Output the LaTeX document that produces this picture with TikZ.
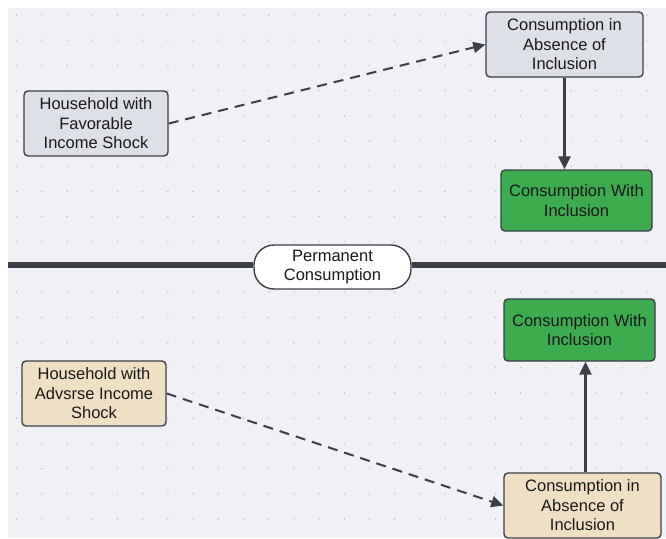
\documentclass[tikz,border=0pt]{standalone}
\usepackage{fontspec}
\setmainfont{Liberation Sans}
\usepackage{tikz}
\usetikzlibrary{arrows.meta}

\definecolor{canvas}{RGB}{241,241,245}
\definecolor{dotc}{RGB}{190,190,198}
\definecolor{edge}{RGB}{59,63,72}
\definecolor{greybox}{RGB}{221,224,230}
\definecolor{beigebox}{RGB}{239,224,195}
\definecolor{greenbox}{RGB}{60,172,78}

\tikzset{
    box/.style={draw=edge, line width=1.4pt, rounded corners=4pt, align=center,
        font=\fontsize{16.5}{19.5}\selectfont, text=black!90, inner sep=0pt},
    pill/.style={box, rounded corners=20pt, fill=white},
    flow/.style={draw=edge, line width=3pt, -{Triangle[length=13pt,width=12pt]}},
    shockarrow/.style={draw=edge, line width=2pt, dash pattern=on 10pt off 7pt,
        -{Triangle[length=12pt,width=11pt]}}
}

\begin{document}
\begin{tikzpicture}[x=1pt,y=-1pt]
    \useasboundingbox (0,0) rectangle (666,538);
    % Canvas
    \fill[canvas] (8,8) rectangle (666,538);
    \foreach \i in {0,...,25}
        \foreach \j in {0,...,20}
            \fill[dotc] (16.7+25.2*\i, 15+25.2*\j) circle (0.8pt);

    % Divider
    \coordinate (lineL) at (8,265);
    \coordinate (lineR) at (666,265);
    \node[pill, minimum width=157pt, minimum height=44pt] (perm) at (332.5,267)
        {Permanent\\Consumption};
    \draw[edge, line width=6pt] (lineL) -- (lineL -| perm.west);
    \draw[edge, line width=6pt] (lineR -| perm.east) -- (lineR);

    % Favorable shock
    \node[box, fill=greybox, minimum width=144pt, minimum height=65pt] (favHH) at (96,123.5)
        {Household with\\Favorable\\Income Shock};
    \node[box, fill=greybox, minimum width=157pt, minimum height=65pt] (favAbs) at (564.5,44.5)
        {Consumption in\\Absence of\\Inclusion};
    \node[box, fill=greenbox, minimum width=151pt, minimum height=61pt] (favInc) at (576.5,200.5)
        {Consumption With\\Inclusion};

    % Adverse shock
    \node[box, fill=beigebox, minimum width=144pt, minimum height=65pt] (advHH) at (94,393.5)
        {Household with\\Advsrse Income\\Shock};
    \node[box, fill=beigebox, minimum width=157pt, minimum height=65pt] (advAbs) at (582.5,505.5)
        {Consumption in\\Absence of\\Inclusion};
    \node[box, fill=greenbox, minimum width=151pt, minimum height=62pt] (advInc) at (579.5,330)
        {Consumption With\\Inclusion};

    % Arrows
    \draw[shockarrow] (favHH.east) -- (favAbs.west);
    \draw[flow] (favAbs.south) -- (favAbs.south |- favInc.north);
    \draw[shockarrow] (advHH.east) -- (advAbs.west);
    \draw[flow] ([xshift=3pt]advAbs.north) -- ([xshift=3pt]advAbs.north |- advInc.south);
\end{tikzpicture}
\end{document}
